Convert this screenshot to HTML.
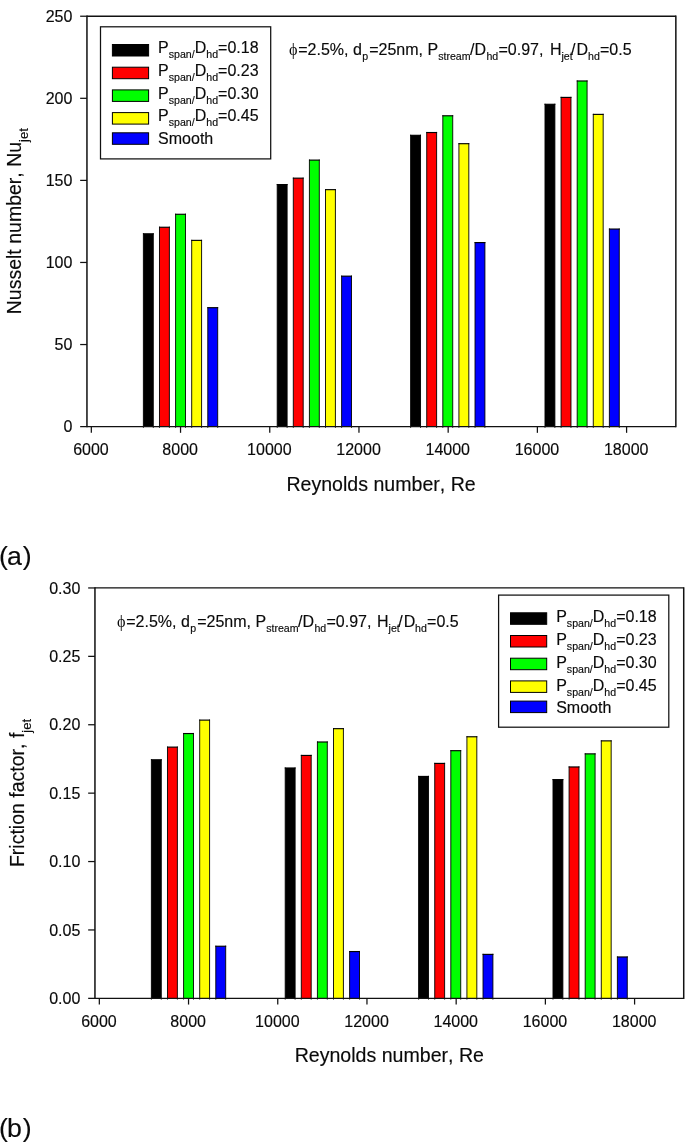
<!DOCTYPE html>
<html lang="en"><head><meta charset="utf-8"><title>Figure</title>
<style>
html,body{margin:0;padding:0;background:#fff;}
body{width:685px;height:1142px;overflow:hidden;}
svg{display:block;}
svg text{font-kerning:none;font-family:"Liberation Sans", Arial, sans-serif;fill:#0a0a0a;stroke:#0a0a0a;stroke-width:0.15px;}
</style></head><body>
<svg width="685" height="1142" viewBox="0 0 685 1142">
<rect x="0" y="0" width="685" height="1142" fill="#ffffff"/>
<rect x="143.39" y="233.81" width="9.90" height="192.81" fill="#000000"/>
<path d="M143.39 427.82V233.24M153.29 427.82V233.24" stroke="#000" stroke-width="0.9" fill="none"/>
<path d="M142.94 233.81H153.74" stroke="#000" stroke-width="1.15" fill="none"/>
<rect x="159.49" y="227.25" width="9.90" height="199.37" fill="#ff0000"/>
<path d="M159.49 427.82V226.67M169.39 427.82V226.67" stroke="#000" stroke-width="0.9" fill="none"/>
<path d="M159.04 227.25H169.84" stroke="#000" stroke-width="1.15" fill="none"/>
<rect x="175.59" y="214.28" width="9.90" height="212.34" fill="#00ff00"/>
<path d="M175.59 427.82V213.70M185.49 427.82V213.70" stroke="#000" stroke-width="0.9" fill="none"/>
<path d="M175.14 214.28H185.94" stroke="#000" stroke-width="1.15" fill="none"/>
<rect x="191.69" y="240.38" width="9.90" height="186.24" fill="#ffff00"/>
<path d="M191.69 427.82V239.80M201.59 427.82V239.80" stroke="#000" stroke-width="0.9" fill="none"/>
<path d="M191.24 240.38H202.04" stroke="#000" stroke-width="1.15" fill="none"/>
<rect x="207.79" y="307.68" width="9.90" height="118.94" fill="#0000ff"/>
<path d="M207.79 427.82V307.11M217.69 427.82V307.11" stroke="#000" stroke-width="0.9" fill="none"/>
<path d="M207.34 307.68H218.14" stroke="#000" stroke-width="1.15" fill="none"/>
<rect x="277.21" y="184.56" width="9.90" height="242.06" fill="#000000"/>
<path d="M277.21 427.82V183.99M287.11 427.82V183.99" stroke="#000" stroke-width="0.9" fill="none"/>
<path d="M276.76 184.56H287.56" stroke="#000" stroke-width="1.15" fill="none"/>
<rect x="293.31" y="178.16" width="9.90" height="248.46" fill="#ff0000"/>
<path d="M293.31 427.82V177.59M303.20 427.82V177.59" stroke="#000" stroke-width="0.9" fill="none"/>
<path d="M292.86 178.16H303.65" stroke="#000" stroke-width="1.15" fill="none"/>
<rect x="309.41" y="160.11" width="9.90" height="266.51" fill="#00ff00"/>
<path d="M309.41 427.82V159.53M319.31 427.82V159.53" stroke="#000" stroke-width="0.9" fill="none"/>
<path d="M308.96 160.11H319.75" stroke="#000" stroke-width="1.15" fill="none"/>
<rect x="325.51" y="189.65" width="9.90" height="236.97" fill="#ffff00"/>
<path d="M325.51 427.82V189.08M335.41 427.82V189.08" stroke="#000" stroke-width="0.9" fill="none"/>
<path d="M325.06 189.65H335.86" stroke="#000" stroke-width="1.15" fill="none"/>
<rect x="341.61" y="276.16" width="9.90" height="150.46" fill="#0000ff"/>
<path d="M341.61 427.82V275.59M351.50 427.82V275.59" stroke="#000" stroke-width="0.9" fill="none"/>
<path d="M341.16 276.16H351.95" stroke="#000" stroke-width="1.15" fill="none"/>
<rect x="410.62" y="135.32" width="9.90" height="291.30" fill="#000000"/>
<path d="M410.62 427.82V134.74M420.52 427.82V134.74" stroke="#000" stroke-width="0.9" fill="none"/>
<path d="M410.17 135.32H420.97" stroke="#000" stroke-width="1.15" fill="none"/>
<rect x="426.72" y="132.53" width="9.90" height="294.09" fill="#ff0000"/>
<path d="M426.72 427.82V131.95M436.62 427.82V131.95" stroke="#000" stroke-width="0.9" fill="none"/>
<path d="M426.27 132.53H437.07" stroke="#000" stroke-width="1.15" fill="none"/>
<rect x="442.82" y="115.78" width="9.90" height="310.84" fill="#00ff00"/>
<path d="M442.82 427.82V115.21M452.72 427.82V115.21" stroke="#000" stroke-width="0.9" fill="none"/>
<path d="M442.37 115.78H453.17" stroke="#000" stroke-width="1.15" fill="none"/>
<rect x="458.92" y="143.69" width="9.90" height="282.93" fill="#ffff00"/>
<path d="M458.92 427.82V143.12M468.82 427.82V143.12" stroke="#000" stroke-width="0.9" fill="none"/>
<path d="M458.47 143.69H469.27" stroke="#000" stroke-width="1.15" fill="none"/>
<rect x="475.02" y="242.59" width="9.90" height="184.03" fill="#0000ff"/>
<path d="M475.02 427.82V242.02M484.92 427.82V242.02" stroke="#000" stroke-width="0.9" fill="none"/>
<path d="M474.57 242.59H485.37" stroke="#000" stroke-width="1.15" fill="none"/>
<rect x="544.99" y="104.29" width="9.90" height="322.33" fill="#000000"/>
<path d="M544.99 427.82V103.72M554.88 427.82V103.72" stroke="#000" stroke-width="0.9" fill="none"/>
<path d="M544.53 104.29H555.33" stroke="#000" stroke-width="1.15" fill="none"/>
<rect x="561.09" y="97.40" width="9.90" height="329.22" fill="#ff0000"/>
<path d="M561.09 427.82V96.82M570.98 427.82V96.82" stroke="#000" stroke-width="0.9" fill="none"/>
<path d="M560.63 97.40H571.43" stroke="#000" stroke-width="1.15" fill="none"/>
<rect x="577.19" y="80.98" width="9.90" height="345.64" fill="#00ff00"/>
<path d="M577.19 427.82V80.41M587.08 427.82V80.41" stroke="#000" stroke-width="0.9" fill="none"/>
<path d="M576.74 80.98H587.53" stroke="#000" stroke-width="1.15" fill="none"/>
<rect x="593.29" y="114.39" width="9.90" height="312.23" fill="#ffff00"/>
<path d="M593.29 427.82V113.81M603.18 427.82V113.81" stroke="#000" stroke-width="0.9" fill="none"/>
<path d="M592.84 114.39H603.63" stroke="#000" stroke-width="1.15" fill="none"/>
<rect x="609.39" y="229.05" width="9.90" height="197.57" fill="#0000ff"/>
<path d="M609.39 427.82V228.48M619.28 427.82V228.48" stroke="#000" stroke-width="0.9" fill="none"/>
<path d="M608.94 229.05H619.74" stroke="#000" stroke-width="1.15" fill="none"/>
<path d="M86.95 15.58V427.27M675.85 15.58V427.27" fill="none" stroke="#111" stroke-width="1.5"/>
<path d="M86.95 16.23H675.85M86.95 426.62H675.85" fill="none" stroke="#111" stroke-width="1.3"/>
<line x1="80.15" y1="426.62" x2="86.95" y2="426.62" stroke="#111" stroke-width="1.25"/>
<text x="72.35" y="432.22" text-anchor="end" font-size="16">0</text>
<line x1="80.15" y1="344.54" x2="86.95" y2="344.54" stroke="#111" stroke-width="1.25"/>
<text x="72.35" y="350.14" text-anchor="end" font-size="16">50</text>
<line x1="80.15" y1="262.46" x2="86.95" y2="262.46" stroke="#111" stroke-width="1.25"/>
<text x="72.35" y="268.06" text-anchor="end" font-size="16">100</text>
<line x1="80.15" y1="180.39" x2="86.95" y2="180.39" stroke="#111" stroke-width="1.25"/>
<text x="72.35" y="185.99" text-anchor="end" font-size="16">150</text>
<line x1="80.15" y1="98.31" x2="86.95" y2="98.31" stroke="#111" stroke-width="1.25"/>
<text x="72.35" y="103.91" text-anchor="end" font-size="16">200</text>
<line x1="80.15" y1="16.23" x2="86.95" y2="16.23" stroke="#111" stroke-width="1.25"/>
<text x="72.35" y="21.83" text-anchor="end" font-size="16">250</text>
<line x1="91.33" y1="426.62" x2="91.33" y2="432.82" stroke="#111" stroke-width="1.25"/>
<text x="90.93" y="454.52" text-anchor="middle" font-size="16">6000</text>
<line x1="180.54" y1="426.62" x2="180.54" y2="432.82" stroke="#111" stroke-width="1.25"/>
<text x="180.14" y="454.52" text-anchor="middle" font-size="16">8000</text>
<line x1="269.75" y1="426.62" x2="269.75" y2="432.82" stroke="#111" stroke-width="1.25"/>
<text x="269.35" y="454.52" text-anchor="middle" font-size="16">10000</text>
<line x1="358.96" y1="426.62" x2="358.96" y2="432.82" stroke="#111" stroke-width="1.25"/>
<text x="358.56" y="454.52" text-anchor="middle" font-size="16">12000</text>
<line x1="448.17" y1="426.62" x2="448.17" y2="432.82" stroke="#111" stroke-width="1.25"/>
<text x="447.77" y="454.52" text-anchor="middle" font-size="16">14000</text>
<line x1="537.38" y1="426.62" x2="537.38" y2="432.82" stroke="#111" stroke-width="1.25"/>
<text x="536.98" y="454.52" text-anchor="middle" font-size="16">16000</text>
<line x1="626.59" y1="426.62" x2="626.59" y2="432.82" stroke="#111" stroke-width="1.25"/>
<text x="626.19" y="454.52" text-anchor="middle" font-size="16">18000</text>
<text x="381.10" y="490.52" text-anchor="middle" font-size="19.58">Reynolds number, Re</text>
<rect x="100.5" y="26.8" width="170.2" height="132.1" fill="#fff" stroke="#111" stroke-width="1.25"/>
<rect x="112.40" y="44.50" width="36.2" height="11.5" fill="#000000" stroke="#000" stroke-width="1"/>
<text x="158.10" y="53.00" font-size="16">P<tspan font-size="10.6" dy="5">span/</tspan><tspan dy="-5">D</tspan><tspan font-size="10.6" dy="5">hd</tspan><tspan dy="-5">=0.18</tspan></text>
<rect x="112.40" y="67.20" width="36.2" height="11.5" fill="#ff0000" stroke="#000" stroke-width="1"/>
<text x="158.10" y="75.80" font-size="16">P<tspan font-size="10.6" dy="5">span/</tspan><tspan dy="-5">D</tspan><tspan font-size="10.6" dy="5">hd</tspan><tspan dy="-5">=0.23</tspan></text>
<rect x="112.40" y="89.90" width="36.2" height="11.5" fill="#00ff00" stroke="#000" stroke-width="1"/>
<text x="158.10" y="98.60" font-size="16">P<tspan font-size="10.6" dy="5">span/</tspan><tspan dy="-5">D</tspan><tspan font-size="10.6" dy="5">hd</tspan><tspan dy="-5">=0.30</tspan></text>
<rect x="112.40" y="112.60" width="36.2" height="11.5" fill="#ffff00" stroke="#000" stroke-width="1"/>
<text x="158.10" y="121.40" font-size="16">P<tspan font-size="10.6" dy="5">span/</tspan><tspan dy="-5">D</tspan><tspan font-size="10.6" dy="5">hd</tspan><tspan dy="-5">=0.45</tspan></text>
<rect x="112.40" y="132.80" width="36.2" height="11.5" fill="#0000ff" stroke="#000" stroke-width="1"/>
<text x="158.10" y="143.60" font-size="16">Smooth</text>
<text font-size="16" xml:space="preserve" style="white-space:pre"><tspan x="289.00" y="55.20" font-size="16.2" font-family="Liberation Serif, serif" stroke-width="0">ϕ</tspan><tspan x="298.21" y="55.20">=2.5%, d</tspan><tspan x="362.26" y="60.20" font-size="10.6">p</tspan><tspan x="369.16" y="55.20">=25nm, P</tspan><tspan x="438.19" y="60.20" font-size="10.6">stream</tspan><tspan x="470.08" y="55.20">/D</tspan><tspan x="486.48" y="60.20" font-size="10.6">hd</tspan><tspan x="498.47" y="55.20">=0.97, </tspan><tspan x="549.95" y="55.20">H</tspan><tspan x="561.50" y="60.20" font-size="10.6">jet</tspan><tspan x="571.10" y="55.20">/</tspan><tspan x="576.54" y="55.20">D</tspan><tspan x="588.00" y="60.20" font-size="10.6">hd</tspan><tspan x="599.99" y="55.20">=0.5</tspan></text>
<text transform="translate(20.60,221.20) rotate(-90)" text-anchor="middle" font-size="19.5">Nusselt number, Nu<tspan font-size="13" dy="7.1">jet</tspan></text>
<text x="-1" y="564.7" font-size="26.7">(<tspan dx="-0.8">a</tspan><tspan dx="0.8">)</tspan></text>
<rect x="151.39" y="759.78" width="9.90" height="238.57" fill="#000000"/>
<path d="M151.39 999.55V759.20M161.29 999.55V759.20" stroke="#000" stroke-width="0.9" fill="none"/>
<path d="M150.94 759.78H161.74" stroke="#000" stroke-width="1.15" fill="none"/>
<rect x="167.49" y="747.12" width="9.90" height="251.23" fill="#ff0000"/>
<path d="M167.49 999.55V746.55M177.39 999.55V746.55" stroke="#000" stroke-width="0.9" fill="none"/>
<path d="M167.04 747.12H177.84" stroke="#000" stroke-width="1.15" fill="none"/>
<rect x="183.59" y="733.54" width="9.90" height="264.81" fill="#00ff00"/>
<path d="M183.59 999.55V732.96M193.49 999.55V732.96" stroke="#000" stroke-width="0.9" fill="none"/>
<path d="M183.14 733.54H193.94" stroke="#000" stroke-width="1.15" fill="none"/>
<rect x="199.69" y="720.11" width="9.90" height="278.24" fill="#ffff00"/>
<path d="M199.69 999.55V719.53M209.59 999.55V719.53" stroke="#000" stroke-width="0.9" fill="none"/>
<path d="M199.24 720.11H210.04" stroke="#000" stroke-width="1.15" fill="none"/>
<rect x="215.79" y="946.24" width="9.90" height="52.11" fill="#0000ff"/>
<path d="M215.79 999.55V945.66M225.69 999.55V945.66" stroke="#000" stroke-width="0.9" fill="none"/>
<path d="M215.34 946.24H226.14" stroke="#000" stroke-width="1.15" fill="none"/>
<rect x="285.21" y="767.99" width="9.90" height="230.36" fill="#000000"/>
<path d="M285.21 999.55V767.41M295.11 999.55V767.41" stroke="#000" stroke-width="0.9" fill="none"/>
<path d="M284.76 767.99H295.56" stroke="#000" stroke-width="1.15" fill="none"/>
<rect x="301.31" y="755.43" width="9.90" height="242.92" fill="#ff0000"/>
<path d="M301.31 999.55V754.85M311.20 999.55V754.85" stroke="#000" stroke-width="0.9" fill="none"/>
<path d="M300.86 755.43H311.65" stroke="#000" stroke-width="1.15" fill="none"/>
<rect x="317.41" y="741.99" width="9.90" height="256.36" fill="#00ff00"/>
<path d="M317.41 999.55V741.42M327.31 999.55V741.42" stroke="#000" stroke-width="0.9" fill="none"/>
<path d="M316.96 741.99H327.75" stroke="#000" stroke-width="1.15" fill="none"/>
<rect x="333.51" y="728.66" width="9.90" height="269.69" fill="#ffff00"/>
<path d="M333.51 999.55V728.08M343.41 999.55V728.08" stroke="#000" stroke-width="0.9" fill="none"/>
<path d="M333.06 728.66H343.86" stroke="#000" stroke-width="1.15" fill="none"/>
<rect x="349.61" y="951.54" width="9.90" height="46.81" fill="#0000ff"/>
<path d="M349.61 999.55V950.97M359.50 999.55V950.97" stroke="#000" stroke-width="0.9" fill="none"/>
<path d="M349.16 951.54H359.95" stroke="#000" stroke-width="1.15" fill="none"/>
<rect x="418.62" y="776.44" width="9.90" height="221.91" fill="#000000"/>
<path d="M418.62 999.55V775.86M428.52 999.55V775.86" stroke="#000" stroke-width="0.9" fill="none"/>
<path d="M418.17 776.44H428.97" stroke="#000" stroke-width="1.15" fill="none"/>
<rect x="434.72" y="763.40" width="9.90" height="234.95" fill="#ff0000"/>
<path d="M434.72 999.55V762.83M444.62 999.55V762.83" stroke="#000" stroke-width="0.9" fill="none"/>
<path d="M434.27 763.40H445.07" stroke="#000" stroke-width="1.15" fill="none"/>
<rect x="450.82" y="750.68" width="9.90" height="247.67" fill="#00ff00"/>
<path d="M450.82 999.55V750.11M460.72 999.55V750.11" stroke="#000" stroke-width="0.9" fill="none"/>
<path d="M450.37 750.68H461.17" stroke="#000" stroke-width="1.15" fill="none"/>
<rect x="466.92" y="736.77" width="9.90" height="261.58" fill="#ffff00"/>
<path d="M466.92 999.55V736.19M476.82 999.55V736.19" stroke="#000" stroke-width="0.9" fill="none"/>
<path d="M466.47 736.77H477.27" stroke="#000" stroke-width="1.15" fill="none"/>
<rect x="483.02" y="954.38" width="9.90" height="43.97" fill="#0000ff"/>
<path d="M483.02 999.55V953.80M492.92 999.55V953.80" stroke="#000" stroke-width="0.9" fill="none"/>
<path d="M482.57 954.38H493.37" stroke="#000" stroke-width="1.15" fill="none"/>
<rect x="552.99" y="779.61" width="9.90" height="218.74" fill="#000000"/>
<path d="M552.99 999.55V779.04M562.88 999.55V779.04" stroke="#000" stroke-width="0.9" fill="none"/>
<path d="M552.53 779.61H563.33" stroke="#000" stroke-width="1.15" fill="none"/>
<rect x="569.09" y="766.96" width="9.90" height="231.39" fill="#ff0000"/>
<path d="M569.09 999.55V766.38M578.98 999.55V766.38" stroke="#000" stroke-width="0.9" fill="none"/>
<path d="M568.63 766.96H579.43" stroke="#000" stroke-width="1.15" fill="none"/>
<rect x="585.19" y="753.87" width="9.90" height="244.48" fill="#00ff00"/>
<path d="M585.19 999.55V753.29M595.08 999.55V753.29" stroke="#000" stroke-width="0.9" fill="none"/>
<path d="M584.74 753.87H595.53" stroke="#000" stroke-width="1.15" fill="none"/>
<rect x="601.29" y="740.87" width="9.90" height="257.48" fill="#ffff00"/>
<path d="M601.29 999.55V740.30M611.18 999.55V740.30" stroke="#000" stroke-width="0.9" fill="none"/>
<path d="M600.84 740.87H611.63" stroke="#000" stroke-width="1.15" fill="none"/>
<rect x="617.39" y="956.97" width="9.90" height="41.38" fill="#0000ff"/>
<path d="M617.39 999.55V956.40M627.28 999.55V956.40" stroke="#000" stroke-width="0.9" fill="none"/>
<path d="M616.94 956.97H627.74" stroke="#000" stroke-width="1.15" fill="none"/>
<path d="M94.95 587.30V999.00M683.72 587.30V999.00" fill="none" stroke="#111" stroke-width="1.5"/>
<path d="M94.95 587.95H683.72M94.95 998.35H683.72" fill="none" stroke="#111" stroke-width="1.3"/>
<line x1="88.15" y1="998.35" x2="94.95" y2="998.35" stroke="#111" stroke-width="1.25"/>
<text x="80.35" y="1003.95" text-anchor="end" font-size="16">0.00</text>
<line x1="88.15" y1="929.95" x2="94.95" y2="929.95" stroke="#111" stroke-width="1.25"/>
<text x="80.35" y="935.55" text-anchor="end" font-size="16">0.05</text>
<line x1="88.15" y1="861.55" x2="94.95" y2="861.55" stroke="#111" stroke-width="1.25"/>
<text x="80.35" y="867.15" text-anchor="end" font-size="16">0.10</text>
<line x1="88.15" y1="793.15" x2="94.95" y2="793.15" stroke="#111" stroke-width="1.25"/>
<text x="80.35" y="798.75" text-anchor="end" font-size="16">0.15</text>
<line x1="88.15" y1="724.75" x2="94.95" y2="724.75" stroke="#111" stroke-width="1.25"/>
<text x="80.35" y="730.35" text-anchor="end" font-size="16">0.20</text>
<line x1="88.15" y1="656.35" x2="94.95" y2="656.35" stroke="#111" stroke-width="1.25"/>
<text x="80.35" y="661.95" text-anchor="end" font-size="16">0.25</text>
<line x1="88.15" y1="587.95" x2="94.95" y2="587.95" stroke="#111" stroke-width="1.25"/>
<text x="80.35" y="593.55" text-anchor="end" font-size="16">0.30</text>
<line x1="99.33" y1="998.35" x2="99.33" y2="1004.55" stroke="#111" stroke-width="1.25"/>
<text x="98.93" y="1026.85" text-anchor="middle" font-size="16">6000</text>
<line x1="188.54" y1="998.35" x2="188.54" y2="1004.55" stroke="#111" stroke-width="1.25"/>
<text x="188.14" y="1026.85" text-anchor="middle" font-size="16">8000</text>
<line x1="277.75" y1="998.35" x2="277.75" y2="1004.55" stroke="#111" stroke-width="1.25"/>
<text x="277.35" y="1026.85" text-anchor="middle" font-size="16">10000</text>
<line x1="366.96" y1="998.35" x2="366.96" y2="1004.55" stroke="#111" stroke-width="1.25"/>
<text x="366.56" y="1026.85" text-anchor="middle" font-size="16">12000</text>
<line x1="456.17" y1="998.35" x2="456.17" y2="1004.55" stroke="#111" stroke-width="1.25"/>
<text x="455.77" y="1026.85" text-anchor="middle" font-size="16">14000</text>
<line x1="545.38" y1="998.35" x2="545.38" y2="1004.55" stroke="#111" stroke-width="1.25"/>
<text x="544.98" y="1026.85" text-anchor="middle" font-size="16">16000</text>
<line x1="634.59" y1="998.35" x2="634.59" y2="1004.55" stroke="#111" stroke-width="1.25"/>
<text x="634.19" y="1026.85" text-anchor="middle" font-size="16">18000</text>
<text x="389.34" y="1062.15" text-anchor="middle" font-size="19.58">Reynolds number, Re</text>
<rect x="498.6" y="595.1" width="170.2" height="132.1" fill="#fff" stroke="#111" stroke-width="1.25"/>
<rect x="510.50" y="612.80" width="36.2" height="11.5" fill="#000000" stroke="#000" stroke-width="1"/>
<text x="556.20" y="622.20" font-size="16">P<tspan font-size="10.6" dy="5">span/</tspan><tspan dy="-5">D</tspan><tspan font-size="10.6" dy="5">hd</tspan><tspan dy="-5">=0.18</tspan></text>
<rect x="510.50" y="635.50" width="36.2" height="11.5" fill="#ff0000" stroke="#000" stroke-width="1"/>
<text x="556.20" y="645.00" font-size="16">P<tspan font-size="10.6" dy="5">span/</tspan><tspan dy="-5">D</tspan><tspan font-size="10.6" dy="5">hd</tspan><tspan dy="-5">=0.23</tspan></text>
<rect x="510.50" y="658.20" width="36.2" height="11.5" fill="#00ff00" stroke="#000" stroke-width="1"/>
<text x="556.20" y="667.80" font-size="16">P<tspan font-size="10.6" dy="5">span/</tspan><tspan dy="-5">D</tspan><tspan font-size="10.6" dy="5">hd</tspan><tspan dy="-5">=0.30</tspan></text>
<rect x="510.50" y="680.90" width="36.2" height="11.5" fill="#ffff00" stroke="#000" stroke-width="1"/>
<text x="556.20" y="690.60" font-size="16">P<tspan font-size="10.6" dy="5">span/</tspan><tspan dy="-5">D</tspan><tspan font-size="10.6" dy="5">hd</tspan><tspan dy="-5">=0.45</tspan></text>
<rect x="510.50" y="701.10" width="36.2" height="11.5" fill="#0000ff" stroke="#000" stroke-width="1"/>
<text x="556.20" y="712.80" font-size="16">Smooth</text>
<text font-size="16" xml:space="preserve" style="white-space:pre"><tspan x="117.00" y="627.00" font-size="16.2" font-family="Liberation Serif, serif" stroke-width="0">ϕ</tspan><tspan x="126.21" y="627.00">=2.5%, d</tspan><tspan x="190.26" y="632.00" font-size="10.6">p</tspan><tspan x="197.16" y="627.00">=25nm, P</tspan><tspan x="266.19" y="632.00" font-size="10.6">stream</tspan><tspan x="298.08" y="627.00">/D</tspan><tspan x="314.48" y="632.00" font-size="10.6">hd</tspan><tspan x="326.47" y="627.00">=0.97, </tspan><tspan x="377.05" y="627.00">H</tspan><tspan x="388.60" y="632.00" font-size="10.6">jet</tspan><tspan x="398.20" y="627.00">/</tspan><tspan x="403.64" y="627.00">D</tspan><tspan x="415.10" y="632.00" font-size="10.6">hd</tspan><tspan x="427.09" y="627.00">=0.5</tspan></text>
<text transform="translate(23.60,793.00) rotate(-90)" text-anchor="middle" font-size="19.5">Friction factor, f<tspan font-size="13" dy="7.1">jet</tspan></text>
<text x="-1" y="1136.5" font-size="26.7">(<tspan dx="-0.8">b</tspan><tspan dx="0.8">)</tspan></text>
</svg>
</body></html>
